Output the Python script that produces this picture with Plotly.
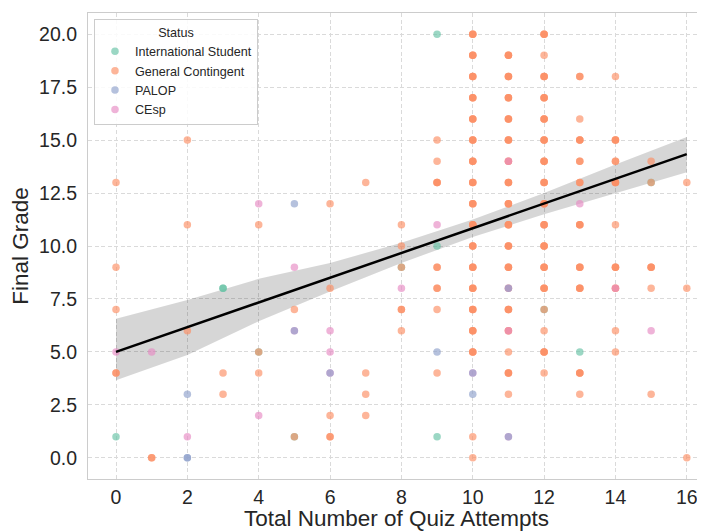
import plotly.graph_objects as go

# ---- data (x = quiz attempts, y = final grade) ----
# repeated entries mean overlapping students at the same spot
intl_points = [(0, 1), (3, 8), (3, 8), (4, 5), (5, 1), (8, 9), (9, 20), (9, 10),
               (9, 1), (12, 7), (13, 5), (15, 13)]

general_counts = [
    (0, 13, 1), (0, 9, 1), (0, 7, 1), (0, 4, 2),
    (1, 0, 2),
    (2, 15, 1), (2, 11, 1), (2, 6, 1),
    (3, 4, 1), (3, 3, 1),
    (4, 11, 1), (4, 5, 1), (4, 4, 1),
    (5, 7, 1), (5, 1, 1),
    (6, 12, 1), (6, 8, 1), (6, 2, 1), (6, 1, 2),
    (7, 13, 1), (7, 4, 1), (7, 3, 1), (7, 2, 1),
    (8, 11, 1), (8, 10, 1), (8, 9, 1), (8, 7, 2), (8, 6, 1),
    (9, 15, 1), (9, 14, 1), (9, 13, 3), (9, 9, 2), (9, 8, 2), (9, 7, 1), (9, 4, 1),
    (10, 20, 3), (10, 19, 3), (10, 18, 3), (10, 17, 3), (10, 16, 3), (10, 15, 3),
    (10, 14, 3), (10, 13, 3), (10, 12, 3), (10, 11, 3), (10, 10, 3), (10, 9, 3),
    (10, 8, 3), (10, 7, 3), (10, 6, 3), (10, 5, 3), (10, 1, 1), (10, 0, 1),
    (11, 19, 3), (11, 18, 3), (11, 17, 3), (11, 16, 3), (11, 15, 3), (11, 14, 2),
    (11, 13, 3), (11, 12, 3), (11, 11, 3), (11, 10, 3), (11, 9, 3), (11, 8, 1),
    (11, 7, 3), (11, 6, 2), (11, 5, 1), (11, 4, 3), (11, 3, 1),
    (12, 20, 3), (12, 19, 1), (12, 18, 3), (12, 17, 3), (12, 16, 3), (12, 15, 3),
    (12, 14, 3), (12, 13, 3), (12, 12, 3), (12, 11, 3), (12, 10, 3), (12, 9, 3),
    (12, 8, 3), (12, 7, 1), (12, 6, 1), (12, 5, 3), (12, 4, 1),
    (13, 18, 2), (13, 16, 1), (13, 15, 3), (13, 14, 2), (13, 13, 2), (13, 11, 3),
    (13, 9, 3), (13, 8, 3), (13, 4, 3), (13, 3, 1),
    (14, 18, 1), (14, 15, 3), (14, 14, 2), (14, 13, 3), (14, 11, 1), (14, 9, 3),
    (14, 8, 2), (14, 6, 1), (14, 5, 1),
    (15, 14, 1), (15, 13, 1), (15, 9, 3), (15, 8, 1), (15, 3, 1),
    (16, 13, 1), (16, 8, 1), (16, 0, 1),
]

palop_points = [(2, 3), (2, 0), (2, 0), (5, 12), (5, 6), (6, 4), (9, 5), (10, 4),
                (10, 3), (11, 8), (11, 1)]

cesp_points = [(0, 5), (1, 5), (2, 1), (4, 12), (4, 2), (5, 9), (5, 6), (6, 6),
               (6, 5), (6, 4), (8, 8), (9, 11), (10, 4), (11, 14), (11, 8), (11, 6),
               (11, 1), (13, 12), (14, 8), (15, 6)]

# regression line and 95% CI band
fit_x = [0, 16]
fit_y = [5.0, 14.34]
band_x = [0, 2, 4, 6, 8, 10, 12, 14, 16]
band_lo = [3.66, 4.85, 6.45, 7.85, 9.2, 10.42, 11.5, 12.5, 13.48]
band_hi = [6.57, 7.45, 8.45, 9.2, 10.15, 11.25, 12.5, 13.85, 15.15]

x_ticks = [0, 2, 4, 6, 8, 10, 12, 14, 16]
y_ticks = [0, 2.5, 5, 7.5, 10, 12.5, 15, 17.5, 20]
y_ticktext = ["0.0", "2.5", "5.0", "7.5", "10.0", "12.5", "15.0", "17.5", "20.0"]

colors = {"International Student": "#66c2a5", "General Contingent": "#fc8d62",
          "PALOP": "#8da0cb", "CEsp": "#e78ac3"}

general_points = []
for gx, gy, n in general_counts:
    general_points += [(gx, gy)] * n

fig = go.Figure()

# CI band (below points)
fig.add_trace(go.Scatter(x=band_x, y=band_lo, mode="lines", line=dict(width=0),
                         showlegend=False, hoverinfo="skip"))
fig.add_trace(go.Scatter(x=band_x, y=band_hi, mode="lines", line=dict(width=0),
                         fill="tonexty", fillcolor="rgba(0,0,0,0.16)",
                         showlegend=False, hoverinfo="skip"))

groups = [("International Student", intl_points, 1),
          ("General Contingent", general_points, 2),
          ("CEsp", cesp_points, 4),
          ("PALOP", palop_points, 3)]
for name, pts, rank in groups:
    fig.add_trace(go.Scatter(
        x=[p[0] for p in pts], y=[p[1] for p in pts], mode="markers", name=name,
        legendrank=rank,
        marker=dict(color=colors[name], size=7.5, opacity=0.65, line=dict(width=0)),
    ))

fig.add_trace(go.Scatter(x=fit_x, y=fit_y, mode="lines",
                         line=dict(color="black", width=2.5), showlegend=False))

# the page body adds an 8px offset, so the figure is 8px smaller than the window
font_family = "Liberation Sans, Arial, sans-serif"
grid_dash = "4px,2.5px"
fig.update_layout(
    width=697, height=523,
    margin=dict(l=80, r=0, t=5, b=52),
    paper_bgcolor="white", plot_bgcolor="white",
    font=dict(family=font_family, color="#262626"),
    legend=dict(
        x=0.0097, y=0.9865, xanchor="left", yanchor="top",
        traceorder="normal",
        bgcolor="rgba(255,255,255,0.85)", bordercolor="#cccccc", borderwidth=1,
        font=dict(size=12.6, color="#262626"),
        title=dict(text="Status", side="top center", font=dict(size=12.6)),
        itemsizing="trace",
    ),
    xaxis=dict(
        range=[-0.785, 16.51], tickvals=x_ticks, ticks="", automargin=False,
        showgrid=True, gridcolor="#dadada", griddash=grid_dash, gridwidth=1,
        zeroline=False, showline=True, linecolor="#cccccc", linewidth=1.2, mirror=True,
        tickfont=dict(size=19.5, color="#262626"), ticklabelstandoff=0,
        title=dict(text="Total Number of Quiz Attempts", font=dict(size=22.5), standoff=0),
    ),
    yaxis=dict(
        range=[-1, 21], tickvals=y_ticks, ticktext=y_ticktext, ticks="", automargin=False,
        showgrid=True, gridcolor="#dadada", griddash=grid_dash, gridwidth=1,
        zeroline=False, showline=True, linecolor="#cccccc", linewidth=1.2,
        tickfont=dict(size=19.5, color="#262626"), ticklabelstandoff=6,
        title=dict(text="Final Grade", font=dict(size=22.5), standoff=5),
    ),
)

fig.write_html("out.html")
